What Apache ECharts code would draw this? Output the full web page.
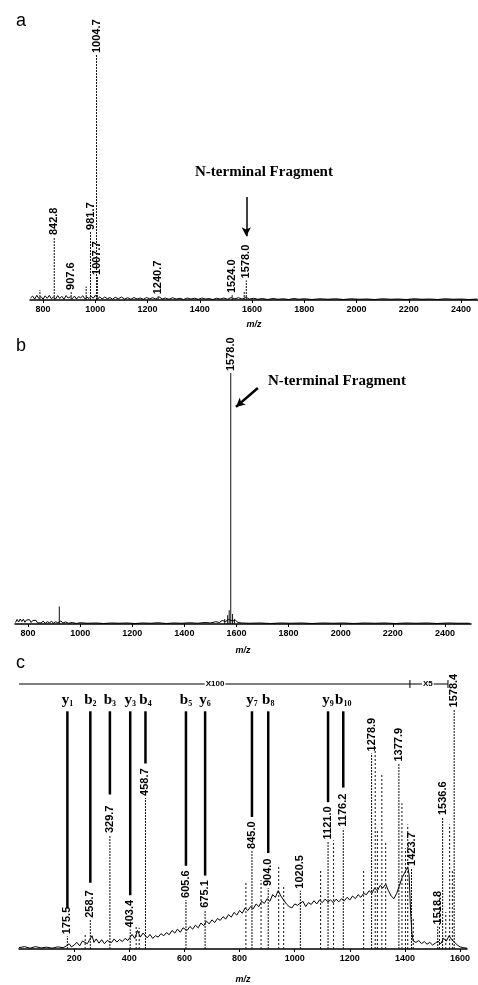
<!DOCTYPE html>
<html>
<head>
<meta charset="utf-8">
<script src="https://cdn.jsdelivr.net/npm/echarts@6/dist/echarts.min.js"></script>
<style>
  html, body { margin: 0; padding: 0; background: #fff; }
  #chart { width: 478px; height: 985px; }
</style>
</head>
<body>
<div id="chart"></div>
<script>
// ---- panel a: MALDI spectrum ----
var aTicks = [800, 1000, 1200, 1400, 1600, 1800, 2000, 2200, 2400];
var aPeakMz = [842.8, 907.6, 981.7, 1004.7, 1007.7, 1240.7, 1524.0, 1578.0];
var aPeakInt = [25.7, 3.3, 27.8, 100, 9.4, 1.5, 2.0, 8.0];
var aSpikeMz = [788, 965, 1570];
var aSpikeInt = [4.0, 5.5, 3.5];
var aNoise = [
  [752, 0.8], [760, 1.6], [768, 0.4], [776, 1.9], [784, 0.6], [792, 1.4], [800, 0.3], [808, 1.7],
  [816, 0.7], [824, 1.9], [832, 0.5], [840, 1.3], [848, 0.4], [856, 1.8], [864, 0.6], [872, 1.5],
  [880, 0.3], [888, 1.8], [896, 0.8], [904, 1.3], [912, 0.5], [920, 1.6], [928, 0.4], [936, 1.4],
  [944, 0.9], [952, 1.7], [960, 0.5], [968, 1.2], [976, 0.6], [984, 1.5], [992, 0.7], [1000, 1.9],
  [1010, 0.6], [1018, 1.3], [1026, 0.4], [1036, 1.2], [1046, 0.5], [1056, 1.0], [1066, 0.3], [1076, 1.1],
  [1088, 0.5], [1100, 1.2], [1112, 0.4], [1124, 0.9], [1136, 0.3], [1148, 1.0], [1160, 0.4], [1172, 0.8],
  [1184, 0.3], [1196, 1.0], [1208, 0.5], [1220, 0.9], [1232, 0.4], [1244, 1.3], [1256, 0.4], [1268, 0.8],
  [1282, 0.3], [1296, 0.9], [1310, 0.4], [1324, 0.7], [1338, 0.2], [1352, 0.8], [1366, 0.4], [1380, 0.7],
  [1394, 0.3], [1408, 0.8], [1422, 0.4], [1436, 0.6], [1450, 0.2], [1464, 0.7], [1478, 0.4], [1492, 0.8],
  [1506, 0.3], [1520, 1.0], [1534, 0.5], [1548, 0.9], [1562, 0.4], [1576, 1.1], [1590, 0.4], [1606, 0.7],
  [1622, 0.3], [1640, 0.6], [1660, 0.2], [1680, 0.6], [1700, 0.3], [1720, 0.5], [1740, 0.2], [1760, 0.6],
  [1780, 0.3], [1800, 0.5], [1830, 0.2], [1860, 0.5], [1890, 0.3], [1920, 0.5], [1950, 0.2], [1980, 0.5],
  [2010, 0.3], [2040, 0.4], [2070, 0.2], [2100, 0.5], [2130, 0.3], [2160, 0.4], [2190, 0.2], [2220, 0.5],
  [2250, 0.3], [2280, 0.4], [2310, 0.2], [2340, 0.5], [2370, 0.3], [2400, 0.4], [2430, 0.2], [2462, 0.4]
];

// ---- panel b: purified fragment ----
var bTicks = [800, 1000, 1200, 1400, 1600, 1800, 2000, 2200, 2400];
var bPeakMz = [1578.0];
var bPeakInt = [100];
var bSpikeMz = [920, 1555, 1566, 1572, 1585, 1592];
var bSpikeInt = [7.0, 2.0, 3.5, 5.5, 4.0, 2.0];
var bNoise = [
  [752, 0.6], [758, 1.8], [764, 0.8], [770, 2.0], [776, 1.0], [782, 1.9], [788, 0.7], [794, 1.6],
  [800, 0.9], [806, 1.7], [812, 0.6], [818, 1.4], [824, 0.8], [830, 1.5], [836, 0.5], [842, 1.2],
  [850, 0.4], [858, 1.1], [866, 0.3], [874, 0.9], [882, 0.5], [890, 1.0], [898, 0.4], [906, 0.9],
  [914, 0.5], [926, 1.2], [934, 0.4], [944, 0.8], [956, 0.3], [970, 0.6], [985, 0.2], [1000, 0.5],
  [1030, 0.3], [1060, 0.4], [1090, 0.2], [1120, 0.4], [1150, 0.3], [1180, 0.4], [1210, 0.2], [1240, 0.4],
  [1270, 0.3], [1300, 0.5], [1330, 0.2], [1360, 0.4], [1390, 0.3], [1420, 0.5], [1450, 0.3], [1480, 0.6],
  [1500, 0.4], [1520, 0.9], [1535, 0.6], [1545, 1.4], [1558, 1.0], [1570, 1.8], [1584, 1.2], [1596, 1.5],
  [1606, 0.6], [1620, 0.4], [1650, 0.3], [1690, 0.4], [1730, 0.2], [1770, 0.4], [1810, 0.3], [1850, 0.4],
  [1890, 0.2], [1930, 0.4], [1970, 0.3], [2010, 0.4], [2050, 0.2], [2090, 0.4], [2130, 0.3], [2170, 0.4],
  [2210, 0.2], [2250, 0.4], [2290, 0.3], [2330, 0.4], [2370, 0.2], [2410, 0.4], [2450, 0.3], [2495, 0.3]
];

// ---- panel c: MS/MS of 1578 ----
var cTicks = [200, 400, 600, 800, 1000, 1200, 1400, 1600];
var cPeakMz = [175.5, 258.7, 329.7, 403.4, 458.7, 605.6, 675.1, 845.0, 904.0, 1020.5,
               1121.0, 1176.2, 1278.9, 1377.9, 1423.7, 1518.8, 1536.6, 1578.4];
var cPeakInt = [4.8, 11.0, 43.0, 7.4, 57.0, 18.5, 14.8, 37.0, 23.0, 22.0,
                40.6, 45.4, 73.8, 70.0, 30.6, 8.5, 49.8, 90.4];
var cSpikeMz = [240, 425, 436, 823, 878, 942, 960, 1094, 1141, 1250, 1292, 1300, 1316, 1330,
                1389, 1402, 1410, 1430, 1525, 1548, 1562, 1572];
var cSpikeInt = [6.0, 9.0, 8.0, 25.0, 26.0, 31.0, 24.0, 29.5, 41.0, 30.0, 77.0, 45.0, 66.0, 40.0,
                 55.0, 38.0, 47.0, 12.0, 20.0, 14.0, 47.0, 30.0];
var ionMz = [175.5, 258.7, 329.7, 403.4, 458.7, 605.6, 675.1, 845.0, 904.0, 1121.0, 1176.2];
var ionType = ['y', 'b', 'b', 'y', 'b', 'b', 'y', 'y', 'b', 'y', 'b'];
var ionNum = ['1', '2', '3', '3', '4', '5', '6', '7', '8', '9', '10'];
var ionLineEnd = [15.5, 25.0, 58.3, 20.3, 70.0, 31.4, 27.7, 49.8, 36.2, 55.4, 60.9];
var zoomFrom = [0, 1418];
var zoomTo = [1418, 1556];
var zoomTextAt = [711, 1483];
var zoomText = ['X100', 'X5'];
var cNoise = [
  [0, 0.5], [20, 0.9], [40, 0.3], [60, 0.9], [80, 0.4], [100, 0.7], [120, 0.3], [140, 0.8],
  [160, 0.5], [170, 1.0], [182, 2.0], [190, 0.8], [200, 1.5], [210, 2.5], [220, 1.2], [230, 3.0],
  [248, 2.0], [256, 3.5], [265, 5.0], [272, 2.5], [280, 3.8], [290, 2.2], [300, 3.5], [310, 2.0],
  [320, 3.2], [335, 2.4], [345, 3.8], [355, 2.6], [365, 3.6], [375, 2.8], [385, 4.0], [395, 3.2],
  [410, 5.5], [420, 4.0], [430, 7.0], [440, 4.5], [450, 6.0], [465, 4.2], [475, 5.5], [485, 4.0],
  [495, 5.0], [505, 4.5], [515, 5.8], [525, 5.0], [535, 6.2], [545, 5.4], [555, 7.0], [565, 6.0],
  [575, 7.5], [585, 6.3], [595, 8.0], [610, 7.0], [620, 8.5], [630, 7.5], [640, 9.0], [650, 8.0],
  [660, 9.8], [670, 8.8], [680, 10.5], [690, 9.5], [700, 11.0], [710, 10.0], [720, 11.5], [730, 10.8],
  [740, 12.2], [750, 11.3], [760, 13.0], [770, 12.0], [780, 13.8], [790, 12.8], [800, 14.5], [810, 13.5],
  [820, 15.5], [830, 14.5], [840, 16.0], [850, 15.2], [860, 17.0], [870, 16.0], [880, 18.0], [890, 17.2],
  [900, 19.0], [910, 18.0], [920, 20.5], [930, 19.5], [940, 22.0], [950, 20.0], [960, 18.5], [970, 17.0],
  [980, 16.0], [990, 15.5], [1000, 17.0], [1010, 16.5], [1030, 18.0], [1040, 16.0], [1050, 17.5], [1060, 16.8],
  [1070, 18.2], [1080, 17.0], [1090, 18.5], [1100, 17.5], [1110, 18.8], [1120, 17.8], [1130, 18.5], [1140, 17.5],
  [1150, 18.8], [1160, 17.8], [1170, 19.0], [1180, 18.2], [1190, 19.5], [1200, 18.5], [1210, 20.0], [1220, 19.0],
  [1230, 20.5], [1240, 19.5], [1250, 21.0], [1260, 20.5], [1270, 22.0], [1280, 21.0], [1290, 23.0], [1300, 22.0],
  [1310, 24.0], [1320, 23.0], [1330, 24.5], [1340, 22.0], [1350, 20.0], [1360, 19.0], [1370, 21.0], [1380, 24.0],
  [1390, 27.0], [1400, 29.0], [1410, 31.0], [1415, 28.0], [1420, 15.0], [1425, 6.0], [1430, 3.0], [1440, 2.5],
  [1450, 3.2], [1460, 2.0], [1470, 2.8], [1480, 1.8], [1490, 2.5], [1500, 1.5], [1510, 2.2], [1520, 3.0],
  [1530, 2.0], [1540, 4.0], [1550, 3.0], [1560, 5.0], [1570, 3.5], [1580, 2.5], [1590, 1.5], [1600, 0.8],
  [1610, 0.5], [1625, 0.3]
];

var myChart = echarts.init(document.getElementById('chart'), null, { renderer: 'canvas' });

function pairs(xs, ys) {
  return xs.map(function (x, i) { return [x, ys[i]]; });
}

// vertical stick, optionally with a rotated m/z label on top
function stickRender(withLabel, dash) {
  return function (params, api) {
    var p0 = api.coord([api.value(0), 0]);
    var p1 = api.coord([api.value(0), api.value(1)]);
    var children = [{
      type: 'line',
      shape: { x1: p0[0], y1: p0[1], x2: p1[0], y2: p1[1] },
      style: { stroke: '#111', lineWidth: 1, lineDash: dash || null }
    }];
    if (withLabel) {
      children.push({
        type: 'text',
        x: p1[0],
        y: p1[1] - 2,
        rotation: Math.PI / 2,
        style: {
          text: api.value(0).toFixed(1),
          align: 'left',
          verticalAlign: 'middle',
          fill: '#000',
          font: 'bold 11px "Liberation Sans", Arial, sans-serif'
        }
      });
    }
    return { type: 'group', children: children };
  };
}

function axisX(idx, min, max, ticks, gap) {
  return {
    type: 'value',
    gridIndex: idx,
    min: min,
    max: max,
    name: 'm/z',
    nameLocation: 'middle',
    nameGap: gap,
    nameTextStyle: { fontSize: 9, fontStyle: 'italic', fontWeight: 'bold', color: '#000', fontFamily: 'Liberation Sans' },
    splitLine: { show: false },
    axisLine: { lineStyle: { color: '#000', width: 1.5 } },
    axisTick: { customValues: ticks, length: 3, lineStyle: { color: '#000' } },
    axisLabel: {
      customValues: ticks, fontSize: 9, fontWeight: 'bold', color: '#000', margin: 5,
      fontFamily: 'Liberation Sans',
      formatter: function (v) { return String(v); }
    }
  };
}

function axisY(idx) {
  return { type: 'value', gridIndex: idx, min: 0, max: 100, show: false, splitLine: { show: false } };
}

function noiseSeries(idx, data) {
  return {
    type: 'line', xAxisIndex: idx, yAxisIndex: idx, data: data,
    showSymbol: false, silent: true,
    lineStyle: { color: '#000', width: 1 }
  };
}

function arrowLine(from, to, width) {
  return {
    silent: true,
    symbol: ['none', 'arrow'],
    symbolSize: [7, 9],
    label: { show: false },
    lineStyle: { color: '#000', width: width, type: 'solid' },
    data: [[{ coord: from }, { coord: to }]]
  };
}

var option = {
  animation: false,
  backgroundColor: '#fff',
  grid: [
    { left: 30, top: 55, width: 448, height: 245 },
    { left: 15, top: 373, width: 456, height: 251 },
    { left: 19, top: 684, width: 448, height: 271 }
  ],
  xAxis: [
    axisX(0, 750, 2465, aTicks, 20),
    axisX(1, 750, 2500, bTicks, 22),
    axisX(2, 0, 1625, cTicks, 26)
  ],
  yAxis: [axisY(0), axisY(1), axisY(2)],
  graphic: [
    { type: 'text', left: 16, top: 12, style: { text: 'a', font: '18px "Liberation Sans", Arial, sans-serif', fill: '#000' } },
    { type: 'text', left: 16, top: 337, style: { text: 'b', font: '18px "Liberation Sans", Arial, sans-serif', fill: '#000' } },
    { type: 'text', left: 16, top: 654, style: { text: 'c', font: '18px "Liberation Sans", Arial, sans-serif', fill: '#000' } },
    { type: 'text', left: 195, top: 165, style: { text: 'N-terminal Fragment', font: 'bold 15px "Liberation Serif", "Times New Roman", serif', fill: '#000' } },
    { type: 'text', left: 268, top: 374, style: { text: 'N-terminal Fragment', font: 'bold 15px "Liberation Serif", "Times New Roman", serif', fill: '#000' } }
  ],
  series: [
    // panel a
    noiseSeries(0, aNoise),
    {
      type: 'custom', xAxisIndex: 0, yAxisIndex: 0, silent: true,
      renderItem: stickRender(false, [2, 1]), data: pairs(aSpikeMz, aSpikeInt)
    },
    {
      type: 'custom', xAxisIndex: 0, yAxisIndex: 0, silent: true,
      renderItem: stickRender(true, [2, 1]), data: pairs(aPeakMz, aPeakInt),
      markLine: arrowLine([1578, 42], [1578, 26], 1.5)
    },
    // panel b
    noiseSeries(1, bNoise),
    {
      type: 'custom', xAxisIndex: 1, yAxisIndex: 1, silent: true,
      renderItem: stickRender(false, null), data: pairs(bSpikeMz, bSpikeInt)
    },
    {
      type: 'custom', xAxisIndex: 1, yAxisIndex: 1, silent: true,
      renderItem: stickRender(true, null), data: pairs(bPeakMz, bPeakInt),
      markLine: arrowLine([1682, 94], [1598, 86.5], 2.5)
    },
    // panel c
    noiseSeries(2, cNoise),
    {
      type: 'custom', xAxisIndex: 2, yAxisIndex: 2, silent: true,
      renderItem: stickRender(false, [2, 2]), data: pairs(cSpikeMz, cSpikeInt)
    },
    {
      type: 'custom', xAxisIndex: 2, yAxisIndex: 2, silent: true,
      renderItem: stickRender(true, [2, 1]), data: pairs(cPeakMz, cPeakInt)
    },
    {
      // fragment ion assignments
      type: 'custom', xAxisIndex: 2, yAxisIndex: 2, silent: true,
      data: pairs(ionMz, ionLineEnd),
      renderItem: function (params, api) {
        var i = params.dataIndex;
        var p0 = api.coord([api.value(0), api.value(1)]);
        var p1 = api.coord([api.value(0), 89.7]);
        var pt = api.coord([api.value(0), 94]);
        return {
          type: 'group',
          children: [
            { type: 'line', shape: { x1: p0[0], y1: p0[1], x2: p1[0], y2: p1[1] }, style: { stroke: '#000', lineWidth: 2.5 } },
            {
              type: 'text', x: pt[0], y: pt[1],
              style: {
                text: '{m|' + ionType[i] + '}{s|' + ionNum[i] + '}',
                align: 'center', verticalAlign: 'middle',
                rich: {
                  m: { font: 'bold 15px "Liberation Serif", serif', fill: '#000' },
                  s: { font: 'bold 8px "Liberation Serif", serif', fill: '#000', padding: [8, 0, 0, 0] }
                }
              }
            }
          ]
        };
      }
    },
    {
      // magnification bar (X100 / X5)
      type: 'custom', xAxisIndex: 2, yAxisIndex: 2, silent: true,
      data: zoomFrom.map(function (f, i) { return [f, zoomTo[i], zoomTextAt[i]]; }),
      renderItem: function (params, api) {
        var i = params.dataIndex;
        var a = api.coord([api.value(0), 100]);
        var b = api.coord([api.value(1), 100]);
        var t = api.coord([api.value(2), 100]);
        return {
          type: 'group',
          children: [
            { type: 'line', shape: { x1: a[0], y1: a[1], x2: b[0], y2: b[1] }, style: { stroke: '#000', lineWidth: 1 } },
            { type: 'line', shape: { x1: b[0], y1: b[1] - 4, x2: b[0], y2: b[1] + 4 }, style: { stroke: '#000', lineWidth: 1 } },
            {
              type: 'text', x: t[0], y: t[1],
              style: {
                text: zoomText[i], align: 'center', verticalAlign: 'middle',
                font: 'bold 8px "Liberation Sans", Arial, sans-serif', fill: '#000',
                backgroundColor: '#fff', padding: [0, 1]
              }
            }
          ]
        };
      }
    }
  ]
};

myChart.setOption(option);
window.addEventListener('resize', function () { myChart.resize(); });
</script>
</body>
</html>
